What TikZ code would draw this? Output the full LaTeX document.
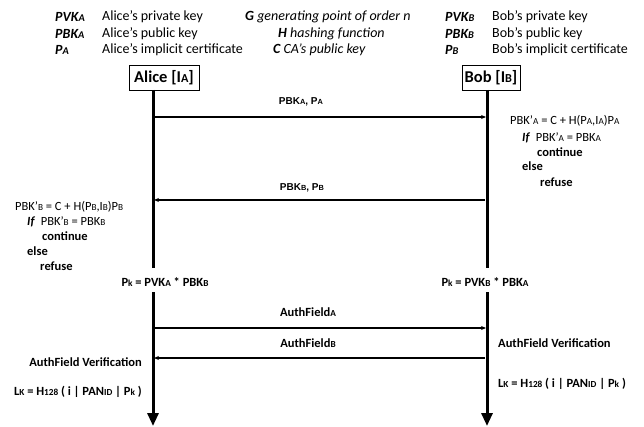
\documentclass[tikz,border=0pt]{standalone}
\usepackage{fontspec}
\usepackage{graphicx}
\setmainfont{Carlito}
\newfontfamily\arialf{Liberation Sans}
\usetikzlibrary{arrows.meta}
\newcommand\lo[1]{\scalebox{0.74}{#1}}
\tikzset{
  txt/.style={inner sep=0pt, font=\fontsize{14}{16}\selectfont},
  abbr/.style={txt, anchor=west, font=\fontsize{14}{16}\selectfont\bfseries\itshape},
  desc/.style={txt, anchor=west},
  eq/.style={inner sep=0pt, anchor=west, font=\fontsize{12.5}{14}\selectfont},
  actor/.style={draw, line width=0.9pt, minimum height=25pt, inner sep=2pt, font=\fontsize{16.5}{18}\selectfont\bfseries},
  life/.style={line width=3pt},
  lifeend/.style={line width=3pt, -{Triangle[length=13pt,width=11pt]}},
  msg/.style={line width=1.3pt, -{Stealth[length=5pt,width=4pt]}},
  mlabel/.style={inner sep=0pt, font=\arialf\fontsize{10}{11}\selectfont\bfseries},
  blabel/.style={inner sep=0pt, font=\fontsize{12.5}{14}\selectfont\bfseries},
  pk/.style={inner sep=0pt, font=\fontsize{12.5}{14}\selectfont\bfseries},
}
\begin{document}
\begin{tikzpicture}[x=1pt,y=-1pt]
\useasboundingbox (0,0) rectangle (644,427);
% legend left
\node[abbr] (l1) at (55,17) {PVK\lo{A}};
\node[abbr] (l2) at (55,34) {PBK\lo{A}};
\node[abbr] (l3) at (55,50) {P\lo{A}};
\node[desc] (d1) at (102,17) {Alice’s private key};
\node[desc] (d2) at (102,34) {Alice’s public key};
\node[desc] (d3) at (102,50) {Alice’s implicit certificate};
% legend middle
\node[desc, font=\fontsize{14}{16}\selectfont\itshape] (m1) at (245,17) {\textbf{G} generating point of order n};
\node[desc, font=\fontsize{14}{16}\selectfont\itshape] (m2) at (278,34) {\textbf{H} hashing function};
\node[desc, font=\fontsize{14}{16}\selectfont\itshape] (m3) at (273,50) {\textbf{C} CA’s public key};
% legend right
\node[abbr] (r1) at (445,17) {PVK\lo{B}};
\node[abbr] (r2) at (445,34) {PBK\lo{B}};
\node[abbr] (r3) at (445,50) {P\lo{B}};
\node[desc] (e1) at (492,17) {Bob’s private key};
\node[desc] (e2) at (492,34) {Bob’s public key};
\node[desc] (e3) at (492,50) {Bob’s implicit certificate};
% actors
\node[actor, minimum width=70pt] (alice) at (164,77.5) {Alice [I\lo{A}]};
\node[actor, minimum width=58pt] (bob) at (491,77.5) {Bob [I\lo{B}]};
% lifeline coordinates
\coordinate (a0) at (153,90);
\coordinate (aG1) at (153,268);
\coordinate (aG2) at (153,292);
\coordinate (aEnd) at (153,426);
\coordinate (b0) at (487,90);
\coordinate (bG1) at (487,268);
\coordinate (bG2) at (487,292);
\coordinate (bEnd) at (487,426);
\draw[life] (a0) -- (aG1);
\draw[lifeend] (aG2) -- (aEnd);
\draw[life] (b0) -- (bG1);
\draw[lifeend] (bG2) -- (bEnd);
% messages
\coordinate (am1) at (155,117); \coordinate (bm1) at (486,117);
\coordinate (am2) at (154,200); \coordinate (bm2) at (485,200);
\coordinate (am3) at (155,328); \coordinate (bm3) at (486,328);
\coordinate (am4) at (154,358); \coordinate (bm4) at (485,358);
\draw[msg] (am1) -- (bm1);
\draw[msg] (bm2) -- (am2);
\draw[msg] (am3) -- (bm3);
\draw[msg] (bm4) -- (am4);
\node[mlabel] (t1) at (301,102) {PBK\lo{A}, P\lo{A}};
\node[mlabel] (t2) at (302,188) {PBK\lo{B}, P\lo{B}};
\node[blabel] (t3) at (308,312) {AuthField\lo{A}};
\node[blabel] (t4) at (308,343) {AuthField\lo{B}};
% right equations
\node[eq] (q1) at (510,121) {PBK’\lo{A} = C + H(P\lo{A},I\lo{A})P\lo{A}};
\node[eq] (q2) at (522,138) {\textbf{\textit{If}}\ \ PBK’\lo{A} = PBK\lo{A}};
\node[eq] (q3) at (537,152) {\textbf{continue}};
\node[eq] (q4) at (522,166) {\textbf{else}};
\node[eq] (q5) at (540,182) {\textbf{refuse}};
% left equations
\node[eq] (p1) at (15,207) {PBK’\lo{B} = C + H(P\lo{B},I\lo{B})P\lo{B}};
\node[eq] (p2) at (27,222) {\textbf{\textit{If}}\ \ PBK’\lo{B} = PBK\lo{B}};
\node[eq] (p3) at (42,236) {\textbf{continue}};
\node[eq] (p4) at (27,251) {\textbf{else}};
\node[eq] (p5) at (40,266) {\textbf{refuse}};
% Pk
\node[pk] (pka) at (165,282) {P\lo{k} = PVK\lo{A} * PBK\lo{B}};
\node[pk] (pkb) at (485,282) {P\lo{k} = PVK\lo{B} * PBK\lo{A}};
% verification
\node[blabel, anchor=east] (va) at (142,362) {AuthField Verification};
\node[blabel, anchor=west] (vb) at (498,343) {AuthField Verification};
\node[blabel, anchor=east] (la) at (142,392) {L\lo{K} = H\lo{128} ( i | PAN\lo{ID} | P\lo{k} )};
\node[blabel, anchor=west] (lb) at (498,384) {L\lo{K} = H\lo{128} ( i | PAN\lo{ID} | P\lo{k} )};
\end{tikzpicture}
\end{document}
